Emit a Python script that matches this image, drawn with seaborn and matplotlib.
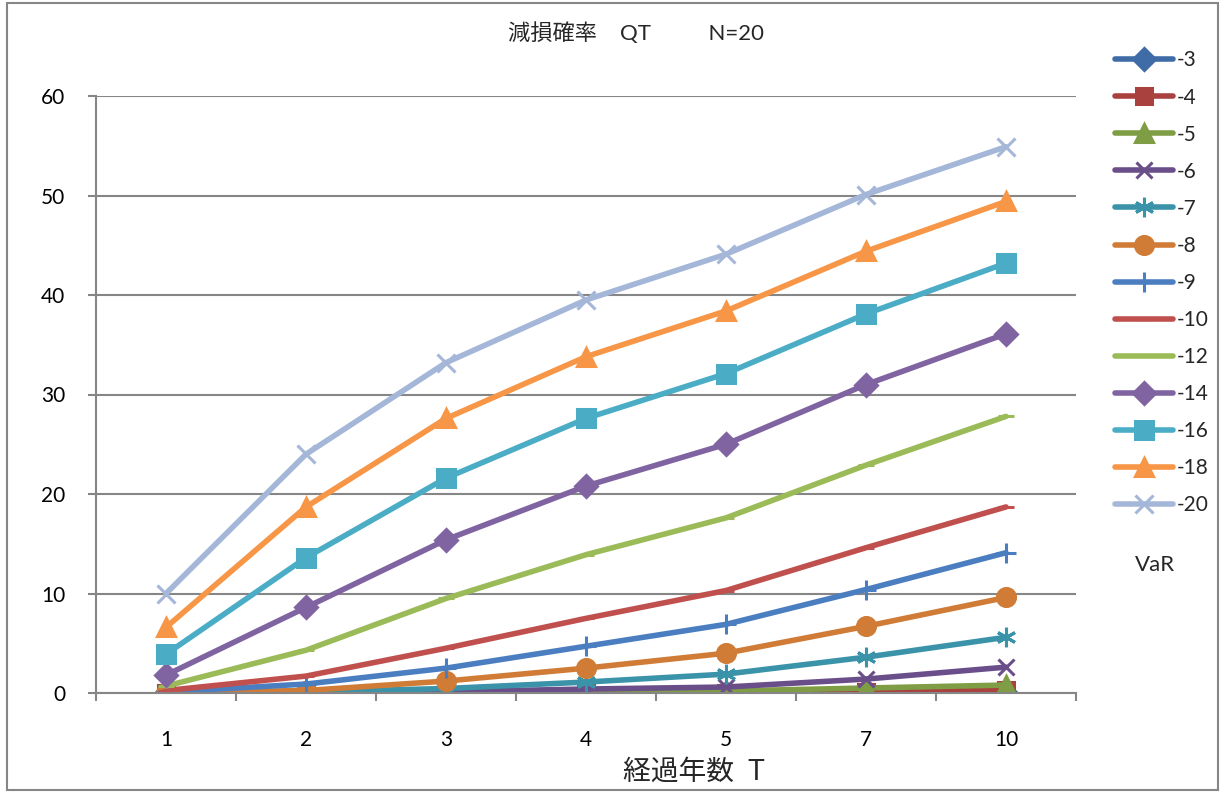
import matplotlib
matplotlib.use("Agg")
import matplotlib.pyplot as plt
import seaborn as sns
from matplotlib.patches import Rectangle
from matplotlib.ticker import FixedLocator

# Elapsed years (categorical axis)
years = ["1", "2", "3", "4", "5", "7", "10"]

# Impairment probability QT (%) per VaR level
var_labels = ["-3", "-4", "-5", "-6", "-7", "-8", "-9", "-10", "-12", "-14", "-16", "-18", "-20"]
q_m3 = [0.0, 0.0, 0.0, 0.0, 0.0, 0.01, 0.03]
q_m4 = [0.0, 0.0, 0.0, 0.0, 0.02, 0.1, 0.3]
q_m5 = [0.0, 0.0, 0.02, 0.05, 0.2, 0.5, 0.8]
q_m6 = [0.0, 0.03, 0.12, 0.4, 0.6, 1.4, 2.6]
q_m7 = [0.01, 0.1, 0.45, 1.1, 1.9, 3.6, 5.6]
q_m8 = [0.05, 0.25, 1.2, 2.5, 4.0, 6.7, 9.6]
q_m9 = [0.1, 0.9, 2.5, 4.7, 6.9, 10.4, 14.1]
q_m10 = [0.25, 1.7, 4.5, 7.5, 10.3, 14.6, 18.7]
q_m12 = [0.7, 4.3, 9.5, 13.9, 17.6, 22.9, 27.8]
q_m14 = [1.8, 8.6, 15.4, 20.8, 25.0, 31.0, 36.1]
q_m16 = [3.9, 13.6, 21.6, 27.6, 32.1, 38.1, 43.2]
q_m18 = [6.6, 18.7, 27.6, 33.8, 38.4, 44.4, 49.4]
q_m20 = [10.0, 24.0, 33.2, 39.5, 44.1, 50.1, 54.9]

series = [q_m3, q_m4, q_m5, q_m6, q_m7, q_m8, q_m9, q_m10, q_m12, q_m14, q_m16, q_m18, q_m20]

colors = ["#3F6BA6", "#A9423F", "#7F9D44", "#6A4E8A", "#3A93A8", "#D07C36",
          "#4A7EC0", "#C0504D", "#9BBB59", "#8064A2", "#4BACC6", "#F79646", "#A5B7D8"]
markers = ["D", "s", "^", "x", (6, 2, 0), "o", "+", "_", "_", "D", "s", "^", "x"]
msizes = [11, 12, 13, 12, 14, 13, 14, 11, 11, 11, 13, 13, 13]

sns.set_theme(style="white")
plt.rcParams["font.family"] = ["Lato", "Noto Sans CJK JP", "DejaVu Sans"]

fig = plt.figure(figsize=(12.29, 7.92), dpi=100)
ax = fig.add_axes([96 / 1229, 1 - 693 / 792, (1076 - 96) / 1229, (693 - 96) / 792])

for lab, vals, col, mk, ms in zip(var_labels, series, colors, markers, msizes):
    sns.lineplot(x=years, y=vals, ax=ax, color=col, linewidth=4.0, marker=mk,
                 markersize=ms, markeredgecolor=col, markerfacecolor=col,
                 markeredgewidth=2.2, label=lab, sort=False)

grid_col = "#868686"
ax.set_xlim(-0.5, 6.5)
ax.set_ylim(0, 60)
ax.set_yticks(range(0, 61, 10))
ax.yaxis.grid(True, color=grid_col, linewidth=1.5)
ax.set_axisbelow(True)
for s in ["top", "right"]:
    ax.spines[s].set_visible(False)
for s in ["left", "bottom"]:
    ax.spines[s].set_color(grid_col)
    ax.spines[s].set_linewidth(1.5)

ax.xaxis.set_minor_locator(FixedLocator([i - 0.5 for i in range(8)]))
ax.tick_params(axis="x", which="major", length=0, pad=27, labelsize=15, colors="black")
ax.tick_params(axis="x", which="minor", bottom=True, length=6, width=1.5, color=grid_col)
ax.tick_params(axis="y", which="major", left=True, length=6, width=1.5, color=grid_col,
               pad=16, labelsize=15, labelcolor="black")

ax.set_xlabel("")
ax.set_ylabel("")
fig.text(694 / 1229, 1 - 772 / 792, "経過年数  T", ha="center", va="center", fontsize=20)

fig.text(636 / 1229, 1 - 33 / 792, "減損確率    QT          N=20", ha="center", va="center",
         fontsize=16)

handles, labels = ax.get_legend_handles_labels()
ax.legend(handles, labels, loc="upper left", bbox_to_anchor=(1105 / 1229, 1 - 40 / 792),
          bbox_transform=fig.transFigure, frameon=False, fontsize=15, handlelength=2.75,
          handletextpad=0.2, labelspacing=0.82, borderpad=0, markerscale=1.0)

fig.text(1155 / 1229, 1 - 565 / 792, "VaR", ha="center", va="center", fontsize=16)

fig.patches.append(Rectangle((7 / 1229, 2 / 792), (1218 - 7) / 1229, (789 - 2) / 792,
                             transform=fig.transFigure, fill=False, edgecolor="#868686",
                             linewidth=1.5))

fig.savefig("out.png", dpi=100)
